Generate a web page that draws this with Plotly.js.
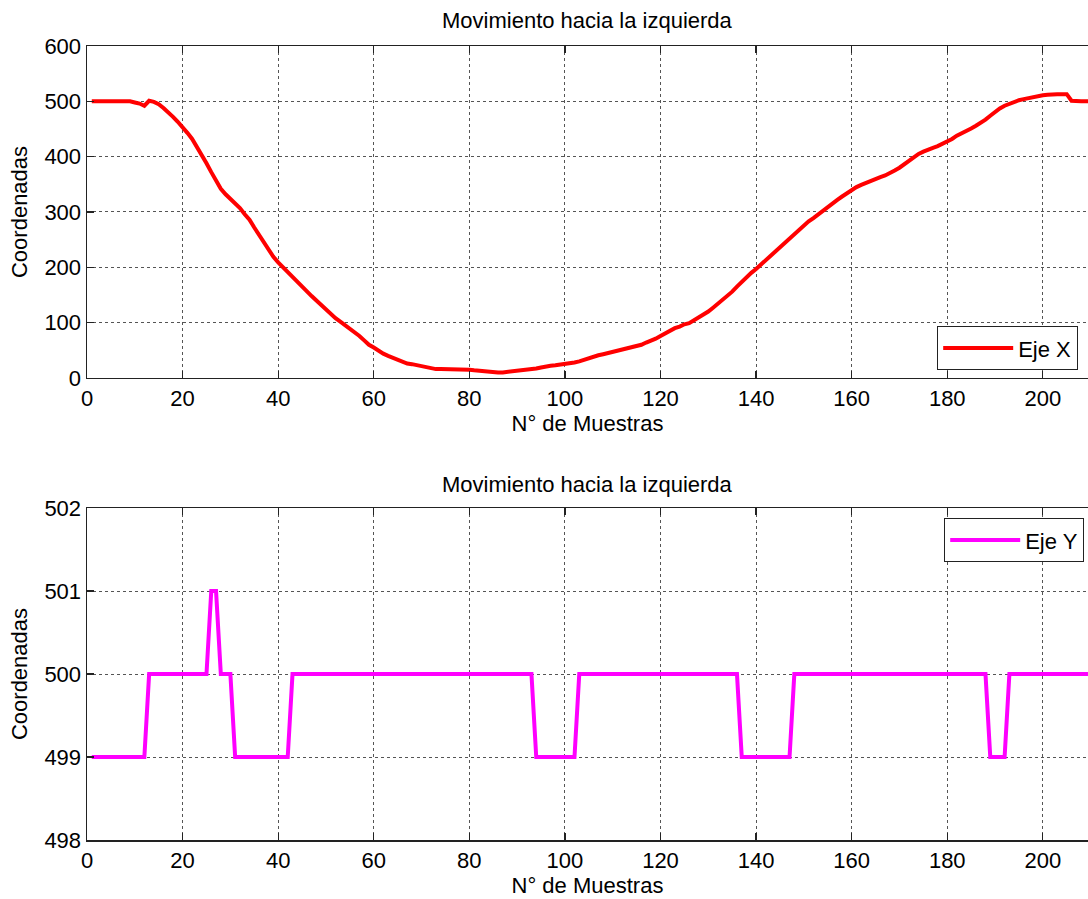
<!DOCTYPE html>
<html>
<head>
<meta charset="utf-8">
<script src="https://cdn.plot.ly/plotly-3.0.1.min.js"></script>
<style>html,body{margin:0;padding:0;background:#fff;}#chart{width:1088px;height:899px;}</style>
</head>
<body>
<div id="chart"></div>
<script>
const chartTitle = "Movimiento hacia la izquierda";
const xAxisTitle = "N° de Muestras";
const yAxisTitle = "Coordenadas";
const seriesXName = "Eje X";
const seriesYName = "Eje Y";

const samples = [
  1,2,3,4,5,6,7,8,9,10,11,12,13,14,15,16,17,18,19,20,
  21,22,23,24,25,26,27,28,29,30,31,32,33,34,35,36,37,38,39,40,
  41,42,43,44,45,46,47,48,49,50,51,52,53,54,55,56,57,58,59,60,
  61,62,63,64,65,66,67,68,69,70,71,72,73,74,75,76,77,78,79,80,
  81,82,83,84,85,86,87,88,89,90,91,92,93,94,95,96,97,98,99,100,
  101,102,103,104,105,106,107,108,109,110,111,112,113,114,115,116,117,118,119,120,
  121,122,123,124,125,126,127,128,129,130,131,132,133,134,135,136,137,138,139,140,
  141,142,143,144,145,146,147,148,149,150,151,152,153,154,155,156,157,158,159,160,
  161,162,163,164,165,166,167,168,169,170,171,172,173,174,175,176,177,178,179,180,
  181,182,183,184,185,186,187,188,189,190,191,192,193,194,195,196,197,198,199,200,
  201,202,203,204,205,206,207,208,209,210
];

const ejeX = [
  500,500,500,500,500,500,500,500,500,498,496,492,501,499,495,488,481,472,463,454,
  443,432,418,403,388,372,357,342,332,324,317,307,296,286,272,258,244,230,219,209,
  200,192,182,173,164,156,148,140,132,124,115,108,102,96,90,83,76,68,60,55,
  49,44,40,36,32,29,26,25,23,21,19,17,16,16,16,16,16,16,15,15,
  14,13,12,11,11,10,10,11,12,12,13,14,16,17,19,21,22,23,24,25,
  27,28,30,33,36,39,41,43,45,47,49,51,53,55,57,60,64,67,71,76,
  81,86,90,93,97,99,104,109,114,120,127,134,141,149,156,165,174,182,190,197,
  205,212,220,228,236,244,253,261,268,276,283,289,296,303,309,316,322,328,334,339,
  345,349,353,357,360,363,366,370,375,380,386,394,400,405,409,413,416,419,423,427,
  432,438,442,446,451,456,461,467,474,481,487,492,496,499,502,504,506,508,510,511,
  512,513,513,513,513,501,500,500,500,500
];

const ejeY = [
  499,499,499,499,499,499,499,499,499,499,499,499,500,500,500,500,500,500,500,500,
  500,500,500,500,500,501,501,500,500,500,499,499,499,499,499,499,499,499,499,499,
  499,499,500,500,500,500,500,500,500,500,500,500,500,500,500,500,500,500,500,500,
  500,500,500,500,500,500,500,500,500,500,500,500,500,500,500,500,500,500,500,500,
  500,500,500,500,500,500,500,500,500,500,500,500,500,499,499,499,499,499,499,499,
  499,499,500,500,500,500,500,500,500,500,500,500,500,500,500,500,500,500,500,500,
  500,500,500,500,500,500,500,500,500,500,500,500,500,500,500,500,499,499,499,499,
  499,499,499,499,499,499,499,500,500,500,500,500,500,500,500,500,500,500,500,500,
  500,500,500,500,500,500,500,500,500,500,500,500,500,500,500,500,500,500,500,500,
  500,500,500,500,500,500,500,500,499,499,499,499,500,500,500,500,500,500,500,500,
  500,500,500,500,500,500,500,500,500,500
];

const xTicks = [0,20,40,60,80,100,120,140,160,180,200];
const yTicksTop = [0,100,200,300,400,500,600];
const yTicksBottom = [498,499,500,501,502];

const FONT = "Liberation Sans, Arial, sans-serif";
const fs = 22;

function xaxisCfg(anchor, domainY) {
  return {
    anchor: anchor,
    domain: [0, 1],
    range: [0, 209.45],
    tickvals: xTicks,
    ticktext: xTicks.map(String),
    ticks: 'inside', ticklen: 7, tickwidth: 1.2, tickcolor: '#222',
    showline: true, linecolor: '#222', linewidth: 1.5, mirror: 'ticks',
    showgrid: true, gridcolor: '#555', griddash: 'dot', gridwidth: 1,
    zeroline: false,
    tickfont: {family: FONT, size: fs, color: '#000'},
    title: {text: xAxisTitle, font: {family: FONT, size: fs, color: '#000'}, standoff: 5},
    fixedrange: true
  };
}
function yaxisCfg(anchor, domain, range, ticks) {
  return {
    anchor: anchor,
    domain: domain,
    range: range,
    tickvals: ticks,
    ticktext: ticks.map(String),
    ticks: 'inside', ticklen: 7, tickwidth: 1.2, tickcolor: '#222',
    showline: true, linecolor: '#222', linewidth: 1.5, mirror: false,
    showgrid: true, gridcolor: '#555', griddash: 'dot', gridwidth: 1,
    zeroline: false,
    tickfont: {family: FONT, size: fs, color: '#000'},
    title: {text: yAxisTitle, font: {family: FONT, size: fs, color: '#000'}, standoff: 10},
    fixedrange: true
  };
}

const traces = [
  {x: samples, y: ejeX, type: 'scatter', mode: 'lines', name: seriesXName,
   xaxis: 'x', yaxis: 'y', line: {color: '#ff0000', width: 4}, legend: 'legend'},
  {x: samples, y: ejeY, type: 'scatter', mode: 'lines', name: seriesYName,
   xaxis: 'x2', yaxis: 'y2', line: {color: '#ff00ff', width: 4}, legend: 'legend2'}
];

const topDom = [0.5819, 1];
const botDom = [0, 0.4181];

const layout = {
  width: 1088, height: 899,
  margin: {l: 87, r: 0, t: 46, b: 59},
  paper_bgcolor: '#fff', plot_bgcolor: '#fff',
  font: {family: FONT, size: fs, color: '#000'},
  showlegend: true,
  xaxis: xaxisCfg('y', topDom),
  yaxis: yaxisCfg('x', topDom, [0, 600], yTicksTop),
  xaxis2: xaxisCfg('y2', botDom),
  yaxis2: yaxisCfg('x2', botDom, [498, 502], yTicksBottom),
  legend: {x: 0.990, y: 0.592, xanchor: 'right', yanchor: 'bottom',
           bgcolor: '#fff', bordercolor: '#222', borderwidth: 1.2,
           font: {family: FONT, size: fs, color: '#000'}, itemwidth: 70},
  legend2: {x: 0.996, y: 0.4055, xanchor: 'right', yanchor: 'top',
           bgcolor: '#fff', bordercolor: '#222', borderwidth: 1.2,
           font: {family: FONT, size: fs, color: '#000'}, itemwidth: 70},
  annotations: [
    {text: chartTitle, xref: 'paper', yref: 'paper', x: 0.5, y: 1, yshift: 26,
     xanchor: 'center', yanchor: 'middle', showarrow: false,
     font: {family: FONT, size: fs, color: '#000'}},
    {text: chartTitle, xref: 'paper', yref: 'paper', x: 0.5, y: botDom[1], yshift: 24,
     xanchor: 'center', yanchor: 'middle', showarrow: false,
     font: {family: FONT, size: fs, color: '#000'}}
  ]
};

Plotly.newPlot('chart', traces, layout, {displayModeBar: false, staticPlot: true});
</script>
</body>
</html>
